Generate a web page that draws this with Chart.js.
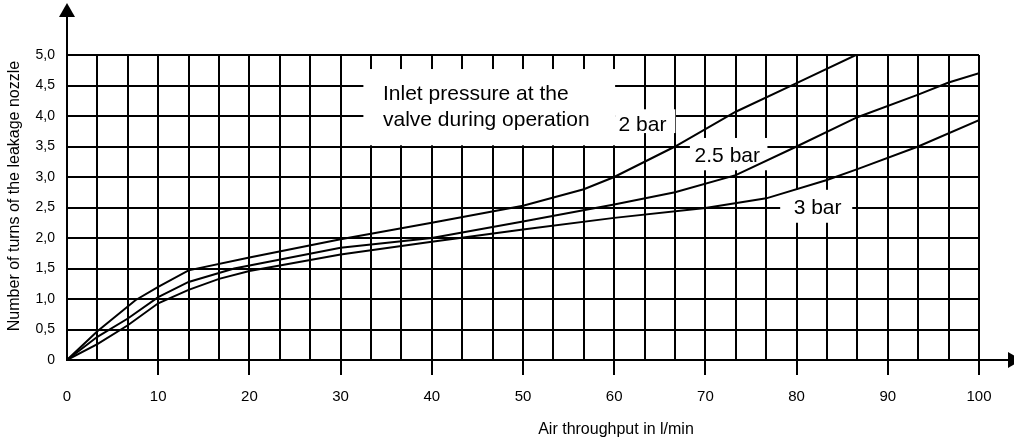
<!DOCTYPE html>
<html>
<head>
<meta charset="utf-8">
<script src="https://cdn.jsdelivr.net/npm/chart.js@4"></script>
<style>
  body { margin: 0; background: #fff; }
  #wrap { width: 1014px; height: 444px; }
</style>
</head>
<body>
<div id="wrap"><canvas id="myChart" width="1014" height="444"></canvas></div>
<script>
// (air throughput l/min -> turns)
const bar2X = [0, 3.33, 7.5, 10, 13.33, 20, 30, 40, 50, 56.67, 60, 66.67, 73.33, 80, 86.5];
const bar2Y = [0, 0.47, 0.98, 1.2, 1.47, 1.68, 1.98, 2.25, 2.53, 2.8, 3.0, 3.5, 4.07, 4.54, 5.0];

const bar25X = [0, 3.33, 6.67, 10, 13.33, 18.33, 30, 40, 50, 60, 66.67, 73.33, 80, 86.67, 93.33, 96.67, 100];
const bar25Y = [0, 0.38, 0.68, 1.03, 1.28, 1.5, 1.84, 2.0, 2.27, 2.55, 2.75, 3.03, 3.5, 3.98, 4.35, 4.55, 4.7];

const bar3X = [0, 3.33, 6.67, 10, 13.33, 16.67, 20, 30, 40, 50, 60, 70, 76.67, 83.33, 86.67, 93.33, 100];
const bar3Y = [0, 0.26, 0.57, 0.93, 1.15, 1.33, 1.46, 1.73, 1.94, 2.14, 2.33, 2.49, 2.65, 2.95, 3.13, 3.5, 3.93];

const seriesNames = ['2 bar', '2.5 bar', '3 bar'];

const xTickValues = [0, 10, 20, 30, 40, 50, 60, 70, 80, 90, 100];
const xTickLabels = ['0', '10', '20', '30', '40', '50', '60', '70', '80', '90', '100'];
const yTickValues = [0, 0.5, 1, 1.5, 2, 2.5, 3, 3.5, 4, 4.5, 5];
const yTickLabels = ['0', '0,5', '1,0', '1,5', '2,0', '2,5', '3,0', '3,5', '4,0', '4,5', '5,0'];

const xTitle = 'Air throughput in l/min';
const yTitle = 'Number of turns of the leakage nozzle';
const noteLines = ['Inlet pressure at the', 'valve during operation'];

const FONT = "'Liberation Sans', Arial, sans-serif";

// white label boxes, in data units
const noteBoxes = [
    {x0: 32.5, x1: 60.1, y0: 3.52, y1: 4.77},
    {x0: 60.1, x1: 66.7, y0: 3.72, y1: 4.11},
    {x0: 68.3, x1: 76.8, y0: 3.11, y1: 3.64},
    {x0: 78.2, x1: 86.1, y0: 2.25, y1: 2.79}
];
const noteTexts = [
    {text: noteLines[0], x: 34.65, y: 4.26, align: 'left'},
    {text: noteLines[1], x: 34.65, y: 3.84, align: 'left'},
    {text: seriesNames[0], x: 63.1, y: 3.76, align: 'center'},
    {text: seriesNames[1], x: 72.4, y: 3.25, align: 'center'},
    {text: seriesNames[2], x: 82.3, y: 2.39, align: 'center'}
];

// vertical grid every 10/3
const xGrid = [];
for (let i = 0; i <= 30; i++) xGrid.push(i * 10 / 3);

function toPoints(xs, ys) {
    return xs.map((v, i) => ({x: v, y: ys[i]}));
}

function isMajor(v) {
    return Math.abs(v / 10 - Math.round(v / 10)) < 1e-6;
}

const decor = {
    id: 'decor',
    beforeDatasetsDraw(chart) {
        const {ctx, scales: {x, y}} = chart;
        ctx.save();
        ctx.fillStyle = '#fff';
        noteBoxes.forEach(b => {
            const l = x.getPixelForValue(b.x0), r = x.getPixelForValue(b.x1);
            const t = y.getPixelForValue(b.y1), bt = y.getPixelForValue(b.y0);
            ctx.fillRect(l, t, r - l, bt - t);
        });
        ctx.fillStyle = '#000';
        ctx.font = '21px ' + FONT;
        ctx.textBaseline = 'alphabetic';
        noteTexts.forEach(n => {
            ctx.textAlign = n.align;
            ctx.fillText(n.text, x.getPixelForValue(n.x), y.getPixelForValue(n.y));
        });
        ctx.restore();
    },
    afterDraw(chart) {
        const {ctx, chartArea: a} = chart;
        ctx.save();
        ctx.strokeStyle = '#000';
        ctx.fillStyle = '#000';
        ctx.lineWidth = 2;
        // axis extensions with arrow heads
        ctx.beginPath();
        ctx.moveTo(a.left, a.top);
        ctx.lineTo(a.left, 16);
        ctx.moveTo(a.right, a.bottom);
        ctx.lineTo(1009, a.bottom);
        ctx.stroke();
        ctx.beginPath();
        ctx.moveTo(a.left, 3);
        ctx.lineTo(a.left - 8, 17);
        ctx.lineTo(a.left + 8, 17);
        ctx.closePath();
        ctx.fill();
        ctx.beginPath();
        ctx.moveTo(1022, a.bottom);
        ctx.lineTo(1008, a.bottom - 8);
        ctx.lineTo(1008, a.bottom + 8);
        ctx.closePath();
        ctx.fill();
        // axis titles
        ctx.font = '16px ' + FONT;
        ctx.textAlign = 'center';
        ctx.textBaseline = 'middle';
        ctx.fillText(xTitle, 616, 430);
        ctx.translate(15, 196);
        ctx.rotate(-Math.PI / 2);
        ctx.fillText(yTitle, 0, 0);
        ctx.restore();
    }
};

const ctx = document.getElementById('myChart').getContext('2d');
const chartInstance = new Chart(ctx, {
    type: 'scatter',
    data: {
        datasets: [
            {label: seriesNames[0], data: toPoints(bar2X, bar2Y)},
            {label: seriesNames[1], data: toPoints(bar25X, bar25Y)},
            {label: seriesNames[2], data: toPoints(bar3X, bar3Y)}
        ].map(d => Object.assign(d, {
            showLine: true,
            borderColor: '#000',
            borderWidth: 2,
            pointRadius: 0,
            tension: 0,
            fill: false
        }))
    },
    options: {
        responsive: false,
        animation: false,
        events: [],
        layout: { padding: { top: 55, right: 35, left: 0, bottom: 0 } },
        plugins: {
            legend: { display: false },
            tooltip: { enabled: false }
        },
        scales: {
            x: {
                type: 'linear',
                min: 0,
                max: 100,
                afterBuildTicks: s => { s.ticks = xGrid.map(v => ({value: v})); },
                afterFit: s => { s.height = 84; },
                ticks: {
                    autoSkip: false,
                    maxRotation: 0,
                    padding: 13,
                    color: '#000',
                    font: { family: FONT, size: 15 },
                    callback: v => {
                        const i = xTickValues.findIndex(t => Math.abs(t - v) < 1e-6);
                        return i >= 0 ? xTickLabels[i] : '';
                    }
                },
                grid: {
                    color: '#000',
                    lineWidth: 2,
                    tickLength: 15,
                    tickColor: c => (c.tick && c.tick.value > 0 && isMajor(c.tick.value)) ? '#000' : 'rgba(0,0,0,0)'
                },
                border: { color: '#000', width: 2 }
            },
            y: {
                type: 'linear',
                min: 0,
                max: 5,
                afterBuildTicks: s => { s.ticks = yTickValues.map(v => ({value: v})); },
                afterFit: s => { s.width = 67; },
                ticks: {
                    padding: 12,
                    color: '#000',
                    font: { family: FONT, size: 14 },
                    callback: (v, i) => yTickLabels[i]
                },
                grid: {
                    color: '#000',
                    lineWidth: 2,
                    drawTicks: false
                },
                border: { color: '#000', width: 2 }
            }
        }
    },
    plugins: [decor]
});
</script>
</body>
</html>
